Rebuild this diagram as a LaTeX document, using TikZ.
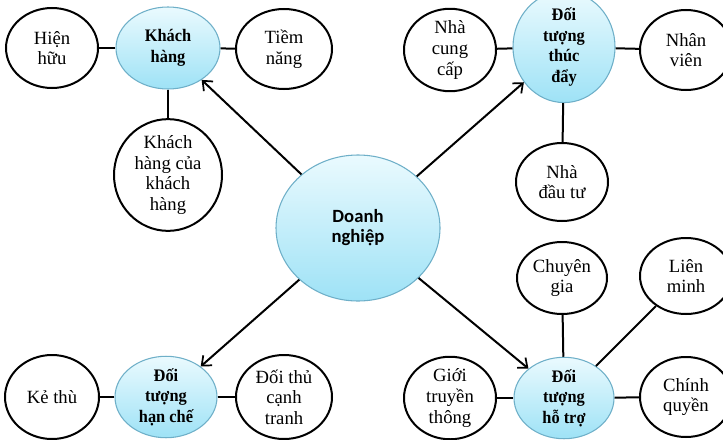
\documentclass[tikz,border=0pt]{standalone}
\usepackage{fontspec}
\setmainfont{Liberation Serif}[BoldFont={Liberation Serif Bold}, BoldFeatures={FakeStretch=0.93}]
\newfontfamily\calibri{Carlito}[BoldFont={Carlito Bold}]
\usetikzlibrary{shapes.geometric,arrows.meta}

\tikzset{
  esize/.style 2 args={minimum width=#1*1.5pt, minimum height=#2*1.5pt},
  bubble/.style={ellipse, inner sep=0pt, align=center,
    font=\fontsize{14pt}{15.5pt}\selectfont},
  plain/.style={bubble, draw=black, line width=1.5pt, fill=white},
  hub/.style={bubble, draw={rgb,255:red,110;green,175;blue,200}, line width=0.8pt,
    top color={rgb,255:red,234;green,250;blue,254},
    bottom color={rgb,255:red,158;green,226;blue,246},
    font=\rmfamily\fontsize{13.2pt}{15.5pt}\selectfont\bfseries},
  link/.style={line width=1.5pt, black},
  arrowlink/.style={line width=1.5pt, black, -{Straight Barb[length=6pt,width=10pt,line width=1.3pt]}}
}

\begin{document}
\begin{tikzpicture}[x=0.75pt, y=-0.75pt]
\useasboundingbox (0,0) rectangle (723,439);
\clip (0,0) rectangle (723,439);

% central hub
\node[hub, esize={82}{73}, font=\calibri\fontsize{14pt}{15pt}\selectfont\bfseries] (dn) at (358,228) {Doanh\\nghiệp};

% customers
\node[hub, esize={52}{41}] (kh) at (168,48) {Khách\\hàng};
\node[plain, esize={46}{40}] (hh) at (52,48) {Hiện\\hữu};
\node[plain, esize={48}{40}] (tn) at (284,49) {Tiềm\\năng};
\node[plain, esize={54}{47}] (khkh) at (168,175) {Khách\\hàng của\\khách\\hàng};

% driving parties
\node[hub, esize={51}{42}] (td) at (564,47) {Đối\\tượng\\thúc\\đẩy};
\node[plain, esize={46}{40}] (ncc) at (450,50) {Nhà\\cung\\cấp};
\node[plain, esize={46}{40}] (nv) at (686,50) {Nhân\\viên};
\node[plain, esize={46}{39}] (ndt) at (562,182) {Nhà\\đầu tư};

% restricting parties
\node[hub, esize={51}{40}] (hc) at (166,397) {Đối\\tượng\\hạn chế};
\node[plain, esize={47}{42}] (kt) at (52,397) {Kẻ thù};
\node[plain, esize={48}{42}] (dtct) at (284,397) {Đối thủ\\cạnh\\tranh};

% supporting parties
\node[hub, esize={50}{40}] (ht) at (564,398) {Đối\\tượng\\hỗ trợ};
\node[plain, esize={46}{40}] (gtt) at (450,398) {Giới\\truyền\\thông};
\node[plain, esize={46}{40}] (cq) at (686,397) {Chính\\quyền};
\node[plain, esize={45}{36}] (cg) at (562,278) {Chuyên\\gia};
\node[plain, esize={46}{38}] (lm) at (686,276) {Liên\\minh};

% links to sub-groups
\draw[link] (hh) -- (kh);
\draw[link] (kh) -- (tn);
\draw[link] (kh) -- (khkh);
\draw[link] (ncc) -- (td);
\draw[link] (td) -- (nv);
\draw[link] (td) -- (ndt);
\draw[link] (kt) -- (hc);
\draw[link] (hc) -- (dtct);
\draw[link] (gtt) -- (ht);
\draw[link] (ht) -- (cq);
\draw[link] (cg) -- (ht);
\draw[link] (lm) -- (ht);

% arrows from the hub
\draw[arrowlink] (dn) -- (kh);
\draw[arrowlink] (dn) -- (td);
\draw[arrowlink] (dn) -- (hc);
\draw[arrowlink] (dn) -- (ht);
\end{tikzpicture}
\end{document}
